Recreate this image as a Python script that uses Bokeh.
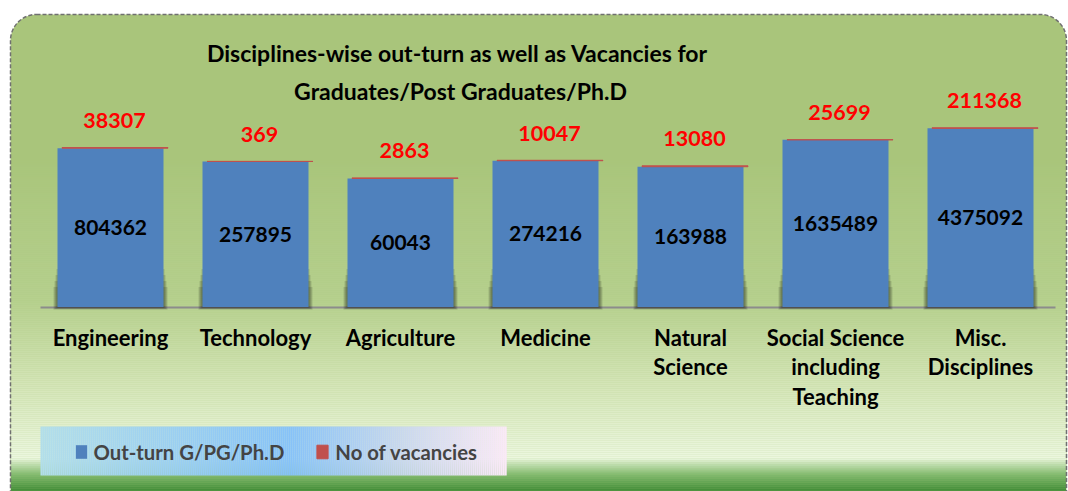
import numpy as np
from bokeh.plotting import figure
from bokeh.models import Range1d, LinearScale, ColumnDataSource, Legend, LegendItem
from bokeh.core.properties import value
from bokeh.transform import dodge
from bokeh.embed import file_html
from bokeh.resources import INLINE

# ---------------- data ----------------
categories = ["Engineering", "Technology", "Agriculture", "Medicine",
              "Natural\nScience", "Social Science\nincluding\nTeaching",
              "Misc.\nDisciplines"]
outturn = [804362, 257895, 60043, 274216, 163988, 1635489, 4375092]
vacancies = [38307, 369, 2863, 10047, 13080, 25699, 211368]
title_lines = ["Disciplines-wise out-turn as well as  Vacancies for",
               "Graduates/Post Graduates/Ph.D"]
legend_labels = ["Out-turn G/PG/Ph.D", "No of vacancies"]

# ---------------- layout constants ----------------
W, H = 1068, 491
OFF = 0
FONT = "Lato"
X0_PX, PITCH = 110, 145          # centre of first category, category spacing (px)
BASE_PX, DECADE_PX = 306.5, 26.9  # pixel of value 1 and pixels per decade
BAR_W = 106 / PITCH

x_start = -(X0_PX - OFF) / PITCH
x_end = x_start + W / PITCH
y_lo = 10 ** (-(OFF + H - BASE_PX) / DECADE_PX)
y_hi = 10 ** ((BASE_PX - OFF) / DECADE_PX)


def fy(ref_y):
    """reference pixel row -> 'px' range value"""
    return OFF + H - ref_y


def lerp_stops(stops, t):
    for (a, ca), (b, cb) in zip(stops[:-1], stops[1:]):
        if a <= t <= b:
            f = (t - a) / (b - a) if b > a else 0
            c = [int(round(ca[i] + (cb[i] - ca[i]) * f)) for i in range(3)]
            return "#%02x%02x%02x" % tuple(c)
    return "#%02x%02x%02x" % tuple(stops[-1][1])


p = figure(width=W, height=H, output_backend="svg", toolbar_location=None,
           x_range=Range1d(x_start, x_end), y_range=Range1d(y_lo, y_hi),
           y_axis_type="log", x_axis_location=None, y_axis_location=None,
           min_border=0, outline_line_color=None)
p.grid.visible = False
p.background_fill_color = "white"
p.border_fill_color = "white"
p.extra_x_ranges = {"px": Range1d(OFF, OFF + W)}
p.extra_y_ranges = {"px": Range1d(0, H)}
p.extra_x_scales = {"px": LinearScale()}
p.extra_y_scales = {"px": LinearScale()}

# ---------------- background panel ----------------
p.quad(left=10, right=1066, top=fy(14), bottom=fy(560), x_range_name="px", y_range_name="px",
       fill_color="#a9c57b", line_color=None, border_radius=26)

vstops = [(160, (169, 197, 123)), (300, (182, 208, 142)), (380, (211, 228, 181)),
          (458, (236, 247, 223)), (462, (205, 230, 190)), (474, (130, 186, 110)),
          (491, (62, 138, 52))]
ys = np.arange(160, 492, 2)
p.quad(left=10.5, right=1065.5, top=[fy(y) for y in ys], bottom=[fy(y + 2.2) for y in ys],
       x_range_name="px", y_range_name="px",
       fill_color=[lerp_stops(vstops, y + 1) for y in ys], line_color=None)

p.quad(left=10, right=1066, top=fy(14), bottom=fy(560), x_range_name="px", y_range_name="px",
       fill_color=None, line_color="#707070", line_width=1.5, line_dash="4 2", border_radius=26)

# legend background gradient
hstops = [(40, (178, 222, 234)), (290, (134, 194, 248)), (400, (200, 215, 238)),
          (505, (250, 233, 247))]
xs = np.arange(40, 505, 2)
p.quad(left=xs, right=xs + 2.2, top=fy(426), bottom=fy(475), x_range_name="px", y_range_name="px",
       fill_color=[lerp_stops(hstops, x + 1) for x in xs], line_color=None)

# floor line
p.line(x=[40, 1055], y=[fy(307), fy(307)], x_range_name="px", y_range_name="px",
       line_color="#8c8c8c", line_width=2)

# ---------------- bars ----------------
idx = list(range(len(categories)))
src = ColumnDataSource(dict(
    x=idx, cat=categories, out=outturn, vac=vacancies,
    total=[o + v for o, v in zip(outturn, vacancies)],
    mid=[np.sqrt(o) for o in outturn],
    out_lbl=[str(o) for o in outturn], vac_lbl=[str(v) for v in vacancies]))

for k in range(1, 5):
    p.vbar(x="x", width=BAR_W + 2 * k / PITCH, bottom=10 ** (-(0.7 * k) / DECADE_PX),
           top=10 ** ((44 - 6 * k) / DECADE_PX), source=src,
           fill_color="black", fill_alpha=0.13, line_color=None)

blue = p.vbar(x="x", width=BAR_W, bottom=1, top="out", source=src,
              fill_color="#4f81bd", line_color=None)
red = p.vbar(x=dodge("x", 4.5 / PITCH), width=BAR_W, bottom="out", top="total", source=src,
             fill_color="#c0504d", line_color="#c0504d", line_width=1)

p.text(x="x", y="mid", text="out_lbl", source=src, text_font=value(FONT),
       text_font_style="bold", text_font_size="21px", text_color="black",
       text_align="center", text_baseline="middle")
p.text(x="x", y="total", text="vac_lbl", source=src, x_offset=4, y_offset=-27,
       text_font=value(FONT), text_font_style="bold", text_font_size="21.5px",
       text_color="#ff0000", text_align="center", text_baseline="middle")

# category labels
p.text(x="x", y=fy(323), text="cat", source=src, y_range_name="px",
       text_font=value(FONT), text_font_style="bold", text_font_size="22px",
       text_color="black", text_align="center", text_baseline="top",
       text_line_height=1.1)

# title
p.text(x=[460, 460], y=[fy(52), fy(90)], text=title_lines, x_range_name="px", y_range_name="px",
       text_font=value(FONT), text_font_style="bold", text_font_size="23px",
       text_color="black", text_align="center", text_baseline="middle")

# legend
legend = Legend(items=[LegendItem(label=legend_labels[0], renderers=[blue]),
                       LegendItem(label=legend_labels[1], renderers=[red])],
                orientation="horizontal", location=(73.5, 27.5),
                background_fill_alpha=0, border_line_color=None,
                label_text_font=FONT, label_text_font_style="bold",
                label_text_font_size="20.3px", glyph_width=14, glyph_height=17,
                label_standoff=6, spacing=31, padding=0, margin=0)
p.add_layout(legend)

open("out.html", "w").write(file_html(p, INLINE))
